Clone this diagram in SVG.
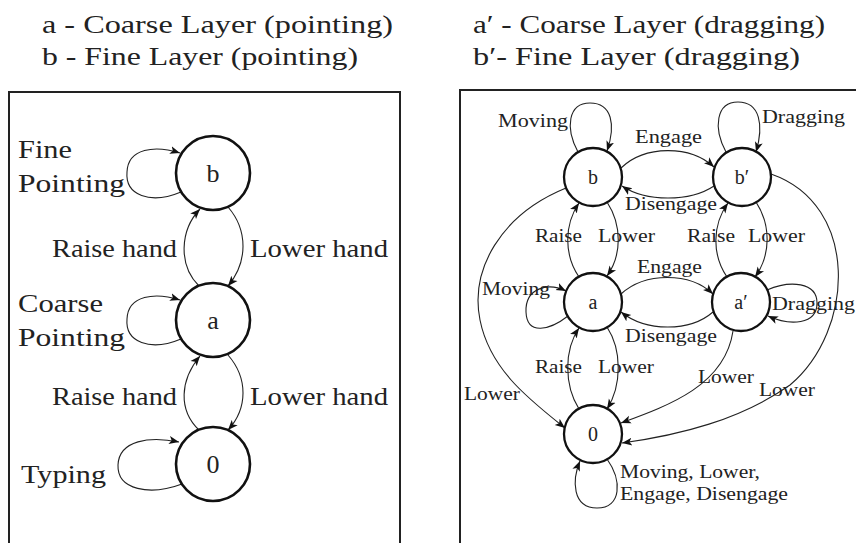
<svg xmlns="http://www.w3.org/2000/svg" width="856" height="543" viewBox="0 0 856 543">
<style>
text{font-family:"Liberation Serif","Times New Roman",serif;fill:#222}
.t{font-size:25px}
.L{font-size:26px}
.R{font-size:19px}
.nl{font-size:26px;text-anchor:middle}
.nr{font-size:20px;text-anchor:middle}
.box{fill:none;stroke:#222;stroke-width:2}
.n1{fill:#fff;stroke:#111;stroke-width:2.6}
.n2{fill:#fff;stroke:#111;stroke-width:2.3}
.e{fill:none;stroke:#222;stroke-width:1.1;marker-end:url(#ah)}
</style>
<defs>
<marker id="ah" viewBox="0 0 10 10" refX="10" refY="5" markerWidth="10" markerHeight="10" markerUnits="userSpaceOnUse" orient="auto">
<path d="M0,1 L10,5 L0,9 L2.5,5 z" fill="#111"/>
</marker>
</defs>
<g id="titles">
<text class="t" x="42" y="33" textLength="351" lengthAdjust="spacingAndGlyphs">a - Coarse Layer (pointing)</text>
<text class="t" x="42" y="65" textLength="316" lengthAdjust="spacingAndGlyphs">b - Fine Layer (pointing)</text>
<text class="t" x="473" y="33" textLength="352" lengthAdjust="spacingAndGlyphs">a′ - Coarse Layer (dragging)</text>
<text class="t" x="473" y="65" textLength="327" lengthAdjust="spacingAndGlyphs">b′- Fine Layer (dragging)</text>
</g>
<g id="frames">
<rect class="box" x="9" y="92" width="391" height="470"/>
<rect class="box" x="460" y="90" width="410" height="470"/>
</g>
<g id="connectors">
<path class="e" d="M181,192 C150,205 125,195 127,172 C128,148 155,145 180,153"/>
<path class="e" d="M199,286 C178,265 180,230 200,209"/>
<path class="e" d="M228,207 C248,230 248,262 228,286"/>
<path class="e" d="M181,339 C150,352 125,342 127,319 C128,295 155,292 180,300"/>
<path class="e" d="M199,430 C178,410 180,380 200,356"/>
<path class="e" d="M228,355 C248,378 248,408 228,430"/>
<path class="e" d="M182,484 C150,496 117,490 118,465 C119,440 150,436 179,442"/>
<path class="e" d="M578,152 C565,128 568,103 590,103 C612,103 616,125 607,151"/>
<path class="e" d="M726,152 C713,128 716,102 738,102 C760,102 764,125 756,152"/>
<path class="e" d="M621,168 C645,145 690,145 714,167"/>
<path class="e" d="M714,186 C690,202 646,202 622,186"/>
<path class="e" d="M607,202 C622,225 622,255 607,276"/>
<path class="e" d="M579,277 C564,255 564,225 579,203"/>
<path class="e" d="M756,202 C771,225 771,255 755,277"/>
<path class="e" d="M727,277 C712,255 712,225 728,203"/>
<path class="e" d="M621,294 C645,272 690,272 713,294"/>
<path class="e" d="M713,312 C690,332 646,332 621,312"/>
<path class="e" d="M568,316 C550,330 527,336 526,312 C525,288 548,282 566,291"/>
<path class="e" d="M767,290 C790,280 817,282 817,303 C817,325 790,326 768,316"/>
<path class="e" d="M607,327 C622,350 622,385 607,409"/>
<path class="e" d="M579,409 C564,385 564,350 579,328"/>
<path class="e" d="M733,331 C725,385 670,405 621,423"/>
<path class="e" d="M771,174 C860,205 855,330 790,385 C740,420 680,435 622,443"/>
<path class="e" d="M566,188 C500,215 470,270 480,320 C490,370 530,400 565,428"/>
<path class="e" d="M607,459 C622,480 622,508 597,508 C572,508 572,480 580,461"/>
</g>
<g id="node-b-left"><circle class="n1" cx="213" cy="173" r="37"/><text class="nl" x="213" y="182">b</text></g>
<g id="node-a-left"><circle class="n1" cx="213" cy="320" r="37"/><text class="nl" x="213" y="329">a</text></g>
<g id="node-0-left"><circle class="n1" cx="213" cy="464" r="37"/><text class="nl" x="213" y="473">0</text></g>
<g id="node-b"><circle class="n2" cx="593" cy="177" r="29"/><text class="nr" x="593" y="184">b</text></g>
<g id="node-bp"><circle class="n2" cx="742" cy="177" r="29"/><text class="nr" x="742" y="184">b′</text></g>
<g id="node-a"><circle class="n2" cx="593" cy="302" r="29"/><text class="nr" x="593" y="309">a</text></g>
<g id="node-ap"><circle class="n2" cx="741" cy="302" r="29"/><text class="nr" x="741" y="309">a′</text></g>
<g id="node-0"><circle class="n2" cx="593" cy="434" r="29"/><text class="nr" x="593" y="441">0</text></g>
<g id="labels-left">
<text class="L" x="18" y="158" textLength="54" lengthAdjust="spacingAndGlyphs">Fine</text>
<text class="L" x="18" y="192" textLength="107" lengthAdjust="spacingAndGlyphs">Pointing</text>
<text class="L" x="52" y="257" textLength="125" lengthAdjust="spacingAndGlyphs">Raise hand</text>
<text class="L" x="250" y="257" textLength="138" lengthAdjust="spacingAndGlyphs">Lower hand</text>
<text class="L" x="18" y="312" textLength="85" lengthAdjust="spacingAndGlyphs">Coarse</text>
<text class="L" x="18" y="346" textLength="107" lengthAdjust="spacingAndGlyphs">Pointing</text>
<text class="L" x="52" y="405" textLength="125" lengthAdjust="spacingAndGlyphs">Raise hand</text>
<text class="L" x="250" y="405" textLength="138" lengthAdjust="spacingAndGlyphs">Lower hand</text>
<text class="L" x="21" y="483" textLength="85" lengthAdjust="spacingAndGlyphs">Typing</text>
</g>
<g id="labels-right">
<text class="R" x="498" y="127" textLength="70" lengthAdjust="spacingAndGlyphs">Moving</text>
<text class="R" x="635" y="143" textLength="67" lengthAdjust="spacingAndGlyphs">Engage</text>
<text class="R" x="762" y="123" textLength="83" lengthAdjust="spacingAndGlyphs">Dragging</text>
<text class="R" x="625" y="210" textLength="92" lengthAdjust="spacingAndGlyphs">Disengage</text>
<text class="R" x="535" y="242" textLength="47" lengthAdjust="spacingAndGlyphs">Raise</text>
<text class="R" x="598" y="242" textLength="57" lengthAdjust="spacingAndGlyphs">Lower</text>
<text class="R" x="687" y="242" textLength="48" lengthAdjust="spacingAndGlyphs">Raise</text>
<text class="R" x="748" y="242" textLength="57" lengthAdjust="spacingAndGlyphs">Lower</text>
<text class="R" x="637" y="273" textLength="65" lengthAdjust="spacingAndGlyphs">Engage</text>
<text class="R" x="482" y="295" textLength="68" lengthAdjust="spacingAndGlyphs">Moving</text>
<text class="R" x="772" y="310" textLength="83" lengthAdjust="spacingAndGlyphs">Dragging</text>
<text class="R" x="625" y="342" textLength="92" lengthAdjust="spacingAndGlyphs">Disengage</text>
<text class="R" x="535" y="373" textLength="47" lengthAdjust="spacingAndGlyphs">Raise</text>
<text class="R" x="598" y="373" textLength="56" lengthAdjust="spacingAndGlyphs">Lower</text>
<text class="R" x="698" y="383" textLength="56" lengthAdjust="spacingAndGlyphs">Lower</text>
<text class="R" x="759" y="396" textLength="56" lengthAdjust="spacingAndGlyphs">Lower</text>
<text class="R" x="464" y="400" textLength="56" lengthAdjust="spacingAndGlyphs">Lower</text>
<text class="R" x="620" y="478" textLength="140" lengthAdjust="spacingAndGlyphs">Moving, Lower,</text>
<text class="R" x="620" y="500" textLength="168" lengthAdjust="spacingAndGlyphs">Engage, Disengage</text>
</g>
</svg>
